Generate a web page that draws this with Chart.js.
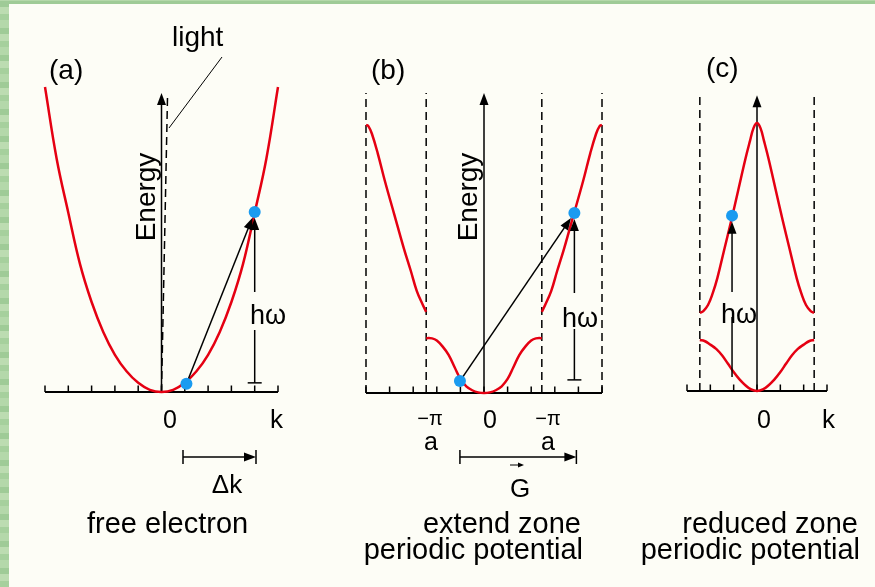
<!DOCTYPE html>
<html><head><meta charset="utf-8">
<script src="https://cdn.jsdelivr.net/npm/chart.js@4/dist/chart.umd.min.js"></script>
<style>
html,body{margin:0;padding:0;width:875px;height:587px;overflow:hidden;
background:repeating-linear-gradient(0deg,#a6d09d 0 6px,#bcdcb1 6px 13px,#9fcb97 13px 19px,#b4d8aa 19px 27px);}
#panel{position:absolute;left:9px;top:4px;width:866px;height:583px;background:#fdfdf6;}
canvas{position:absolute;left:0;top:0;}
</style></head><body>
<div id="panel"></div>
<canvas id="ca" width="875" height="587"></canvas>
<canvas id="cb" width="875" height="587"></canvas>
<canvas id="cc" width="875" height="587"></canvas>
<script>
// ---------- DATA ----------
// (a) free electron parabola
const K_A = [-5,-4.5,-4,-3.5,-3,-2.5,-2,-1.5,-1,-0.5,0,0.5,1,1.5,2,2.5,3,3.5,4,4.5,5];
const E_A = [10,7.65,5.88,4.2,2.95,1.97,1.22,0.68,0.3,0.07,0,0.07,0.3,0.68,1.22,1.97,2.95,4.2,5.88,7.65,10];
const DOT_K_A = [1.07, 4.0];
const DOT_E_A = [0.27, 5.9];
const TICKS_A = [-5,-4,-3,-2,-1,0,1,2,3,4,5];

// (b) extended zone
const K_B_LOW = [-2.45,-2.2,-2,-1.75,-1.5,-1.25,-1,-0.75,-0.5,-0.25,0,0.25,0.5,0.75,1,1.25,1.5,1.75,2,2.2,2.45];
const E_B_LOW = [1.80,1.79,1.72,1.52,1.25,0.85,0.46,0.22,0.09,0.02,0,0.02,0.09,0.22,0.46,0.85,1.25,1.52,1.72,1.79,1.80];
const K_B_UPL = [-5,-4.9,-4.75,-4.5,-4.2,-3.8,-3.4,-3.1,-2.85,-2.6,-2.45];
const E_B_UPL = [8.79,8.75,8.5,7.85,6.95,5.85,4.75,4.0,3.35,2.9,2.66];
const K_B_UPR = [2.45,2.6,2.85,3.1,3.4,3.8,4.2,4.5,4.75,4.9,5];
const E_B_UPR = [2.66,2.9,3.35,4.0,4.75,5.85,6.95,7.85,8.5,8.75,8.79];
const DOT_K_B = [-1.02, 3.83];
const DOT_E_B = [0.39, 5.9];
const TICKS_B = [-5,-4,-3,-2,-1,0,1,2,3,4,5];
const ZONE_B = [-5,-2.45,2.45,5];

// (c) reduced zone
const K_C_LOW = [-2.45,-2.25,-2,-1.75,-1.5,-1.25,-1,-0.75,-0.5,-0.25,0,0.25,0.5,0.75,1,1.25,1.5,1.75,2,2.25,2.45];
const E_C_LOW = [1.67,1.64,1.52,1.38,1.17,0.9,0.62,0.38,0.19,0.05,0,0.05,0.19,0.38,0.62,0.9,1.17,1.38,1.52,1.64,1.67];
const K_C_UP = [-2.45,-2.3,-2.1,-1.9,-1.7,-1.4,-1.1,-0.8,-0.5,-0.3,-0.15,0,0.15,0.3,0.5,0.8,1.1,1.4,1.7,1.9,2.1,2.3,2.45];
const E_C_UP = [2.56,2.62,2.82,3.2,3.7,4.65,5.6,6.6,7.6,8.2,8.62,8.79,8.62,8.2,7.6,6.6,5.6,4.65,3.7,3.2,2.82,2.62,2.56];
const DOT_K_C = [-1.07];
const DOT_E_C = [5.75];
const TICKS_C = [-3,-2,-1,0,1,2,3];
const ZONE_C = [-2.45,2.45];

// ---------- helpers ----------
const RED = '#e50012', BLUE = '#1a9bf0', FONT = '"Liberation Sans", Arial, sans-serif';
const pts = (ks, es) => ks.map((k, i) => ({x: k, y: es[i]}));
function curve(ks, es){ return {data: pts(ks, es), showLine: true, borderColor: RED, borderWidth: 2.5,
  pointRadius: 0, tension: 0.4, fill: false, clip: false}; }
function dots(ks, es){ return {data: pts(ks, es), showLine: false, pointRadius: 6, pointBackgroundColor: BLUE,
  pointBorderWidth: 0, clip: false}; }
function seg(ctx, x1, y1, x2, y2, w, dash){
  ctx.save(); ctx.lineWidth = w || 1.5; ctx.strokeStyle = '#000'; ctx.setLineDash(dash || []);
  ctx.beginPath(); ctx.moveTo(x1, y1); ctx.lineTo(x2, y2); ctx.stroke(); ctx.restore();
}
function head(ctx, x1, y1, x2, y2, len, hw){
  len = len || 12; hw = hw || 4.5;
  const a = Math.atan2(y2 - y1, x2 - x1), c = Math.cos(a), s = Math.sin(a);
  ctx.save(); ctx.fillStyle = '#000'; ctx.beginPath(); ctx.moveTo(x2, y2);
  ctx.lineTo(x2 - len*c + hw*s, y2 - len*s - hw*c);
  ctx.lineTo(x2 - len*c - hw*s, y2 - len*s + hw*c); ctx.closePath(); ctx.fill(); ctx.restore();
}
function arrow(ctx, x1, y1, x2, y2, w){
  const a = Math.atan2(y2 - y1, x2 - x1);
  seg(ctx, x1, y1, x2 - 9*Math.cos(a), y2 - 9*Math.sin(a), w);
  head(ctx, x1, y1, x2, y2);
}
function txt(ctx, s, x, y, size, align){
  ctx.save(); ctx.fillStyle = '#000'; ctx.font = size + 'px ' + FONT; ctx.textAlign = align || 'left';
  ctx.textBaseline = 'alphabetic'; ctx.fillText(s, x, y); ctx.restore();
}
function rtxt(ctx, s, x, y, size){
  ctx.save(); ctx.translate(x, y); ctx.rotate(-Math.PI/2); ctx.fillStyle = '#000';
  ctx.font = size + 'px ' + FONT; ctx.textAlign = 'center'; ctx.fillText(s, 0, 0); ctx.restore();
}
function axisLine(chart, ticks){
  const ctx = chart.ctx, xs = chart.scales.x, ys = chart.scales.y, y0 = ys.getPixelForValue(0);
  seg(ctx, xs.left, y0, xs.right, y0, 2);
  ticks.forEach(t => { const x = xs.getPixelForValue(t); seg(ctx, x, y0, x, y0 - 6.5, 1.5); });
}
// arrow from dot i to dot j, stopping at dot edge
function dotToDot(chart, ks, es, i, j){
  const xs = chart.scales.x, ys = chart.scales.y;
  const x1 = xs.getPixelForValue(ks[i]), y1 = ys.getPixelForValue(es[i]);
  const x2 = xs.getPixelForValue(ks[j]), y2 = ys.getPixelForValue(es[j]);
  const d = Math.hypot(x2 - x1, y2 - y1), r = 6;
  arrow(chart.ctx, x1, y1, x2 - (x2 - x1)*r/d, y2 - (y2 - y1)*r/d, 1.5);
}
// vertical photon arrow at k up to dot, with gap for label
function vArrow(chart, k, eFrom, eTo, gapTop, gapBot, bar){
  const ctx = chart.ctx, x = chart.scales.x.getPixelForValue(k);
  const yb = chart.scales.y.getPixelForValue(eFrom), yt = chart.scales.y.getPixelForValue(eTo) + 6;
  seg(ctx, x, yb, x, gapBot, 1.5);
  seg(ctx, x, gapTop, x, yt + 9, 1.5);
  head(ctx, x, yt + 20, x, yt);
  if (bar) seg(ctx, x - 7, yb, x + 7, yb, 1.5);
}

function makeChart(id, pad, xmin, xmax, datasets, hooks){
  return new Chart(document.getElementById(id), {
    type: 'scatter',
    data: {datasets: datasets},
    options: {
      responsive: false, animation: false, devicePixelRatio: 1, events: [],
      layout: {padding: pad},
      scales: {
        x: {type: 'linear', min: xmin, max: xmax, display: false},
        y: {type: 'linear', min: 0, max: 10, display: false}
      },
      plugins: {legend: {display: false}, tooltip: {enabled: false}}
    },
    plugins: [{
      id: 'deco_' + id,
      beforeDatasetsDraw: hooks.under,
      beforeDatasetDraw: (chart, args) => { if (args.index === 0) hooks.arrows(chart); },
      afterDraw: hooks.text
    }]
  });
}

// ---------- (a) free electron ----------
makeChart('ca', {left: 45, right: 597, top: 87, bottom: 195}, -5, 5,
  [dots(DOT_K_A, DOT_E_A), curve(K_A, E_A)],
  {
    under: chart => {
      const ctx = chart.ctx, xs = chart.scales.x, ys = chart.scales.y;
      axisLine(chart, TICKS_A);
      arrow(ctx, xs.getPixelForValue(0), ys.getPixelForValue(0), xs.getPixelForValue(0), ys.getPixelForValue(9.8), 1.5);
      seg(ctx, xs.getPixelForValue(0), ys.getPixelForValue(0), xs.getPixelForValue(0.26), ys.getPixelForValue(9.75), 1.5, [8, 5]);
    },
    arrows: chart => {
      dotToDot(chart, DOT_K_A, DOT_E_A, 0, 1);
      vArrow(chart, DOT_K_A[1], 0.3, DOT_E_A[1], 292, 330, true);
    },
    text: chart => {
      const ctx = chart.ctx;
      txt(ctx, '(a)', 49, 79, 28);
      txt(ctx, 'light', 172, 46, 28);
      seg(ctx, 222, 57, 169, 128, 1);
      rtxt(ctx, 'Energy', 155, 197, 28);
      txt(ctx, 'h\u03C9', 250, 324, 27);
      txt(ctx, '0', 170, 428, 25, 'center');
      txt(ctx, 'k', 270, 428, 26);
      seg(ctx, 183, 457, 247, 457, 1.5);
      head(ctx, 183, 457, 256, 457);
      seg(ctx, 183, 450, 183, 464, 1.5);
      seg(ctx, 256, 450, 256, 464, 1.5);
      txt(ctx, '\u0394k', 227, 493, 26, 'center');
      txt(ctx, 'free electron', 87, 533, 29);
    }
  });

// ---------- (b) extended zone ----------
makeChart('cb', {left: 366, right: 273, top: 88, bottom: 194}, -5, 5,
  [dots(DOT_K_B, DOT_E_B), curve(K_B_LOW, E_B_LOW), curve(K_B_UPL, E_B_UPL), curve(K_B_UPR, E_B_UPR)],
  {
    under: chart => {
      const ctx = chart.ctx, xs = chart.scales.x, ys = chart.scales.y;
      axisLine(chart, TICKS_B);
      ZONE_B.forEach(k => { const x = xs.getPixelForValue(k);
        seg(ctx, x, ys.getPixelForValue(0), x, ys.getPixelForValue(9.84), 1.5, [8, 5]); });
      arrow(ctx, xs.getPixelForValue(0), ys.getPixelForValue(0), xs.getPixelForValue(0), ys.getPixelForValue(9.84), 1.5);
    },
    arrows: chart => {
      dotToDot(chart, DOT_K_B, DOT_E_B, 0, 1);
      vArrow(chart, DOT_K_B[1], 0.43, DOT_E_B[1], 293, 329, true);
    },
    text: chart => {
      const ctx = chart.ctx, xs = chart.scales.x;
      txt(ctx, '(b)', 371, 79, 28);
      rtxt(ctx, 'Energy', 477, 197, 28);
      txt(ctx, 'h\u03C9', 562, 327, 27);
      txt(ctx, '\u2212\u03C0', 430, 425, 20, 'center');
      txt(ctx, 'a', 431, 450, 25, 'center');
      txt(ctx, '0', 490, 428, 25, 'center');
      txt(ctx, '\u2212\u03C0', 548, 425, 20, 'center');
      txt(ctx, 'a', 548, 450, 25, 'center');
      const g1 = xs.getPixelForValue(DOT_K_B[0]), g2 = xs.getPixelForValue(DOT_K_B[1]) + 2;
      seg(ctx, g1, 457, g2 - 9, 457, 1.5);
      head(ctx, g1, 457, g2, 457);
      seg(ctx, g1, 450, g1, 464, 1.5);
      seg(ctx, g2, 450, g2, 464, 1.5);
      seg(ctx, 510, 465, 519, 465, 1);
      head(ctx, 510, 465, 524, 465, 6, 2.5);
      txt(ctx, 'G', 520, 497, 26, 'center');
      txt(ctx, 'extend zone', 581, 533, 29, 'right');
      txt(ctx, 'periodic potential', 583, 559, 29, 'right');
    }
  });

// ---------- (c) reduced zone ----------
makeChart('cc', {left: 687, right: 48, top: 86, bottom: 196}, -3, 3,
  [dots(DOT_K_C, DOT_E_C), curve(K_C_LOW, E_C_LOW), curve(K_C_UP, E_C_UP)],
  {
    under: chart => {
      const ctx = chart.ctx, xs = chart.scales.x, ys = chart.scales.y;
      axisLine(chart, TICKS_C);
      ZONE_C.forEach(k => { const x = xs.getPixelForValue(k);
        seg(ctx, x, ys.getPixelForValue(0), x, ys.getPixelForValue(9.77), 1.5, [8, 5]); });
      arrow(ctx, xs.getPixelForValue(0), ys.getPixelForValue(0), xs.getPixelForValue(0), ys.getPixelForValue(9.7), 1.5);
    },
    arrows: chart => {
      vArrow(chart, DOT_K_C[0], 0.46, DOT_E_C[0], 292, 317, false);
    },
    text: chart => {
      const ctx = chart.ctx;
      txt(ctx, '(c)', 706, 77, 28);
      txt(ctx, 'h\u03C9', 721, 323, 27);
      txt(ctx, '0', 764, 428, 25, 'center');
      txt(ctx, 'k', 822, 428, 26);
      txt(ctx, 'reduced zone', 858, 533, 29, 'right');
      txt(ctx, 'periodic potential', 860, 559, 29, 'right');
    }
  });
</script>
</body></html>
